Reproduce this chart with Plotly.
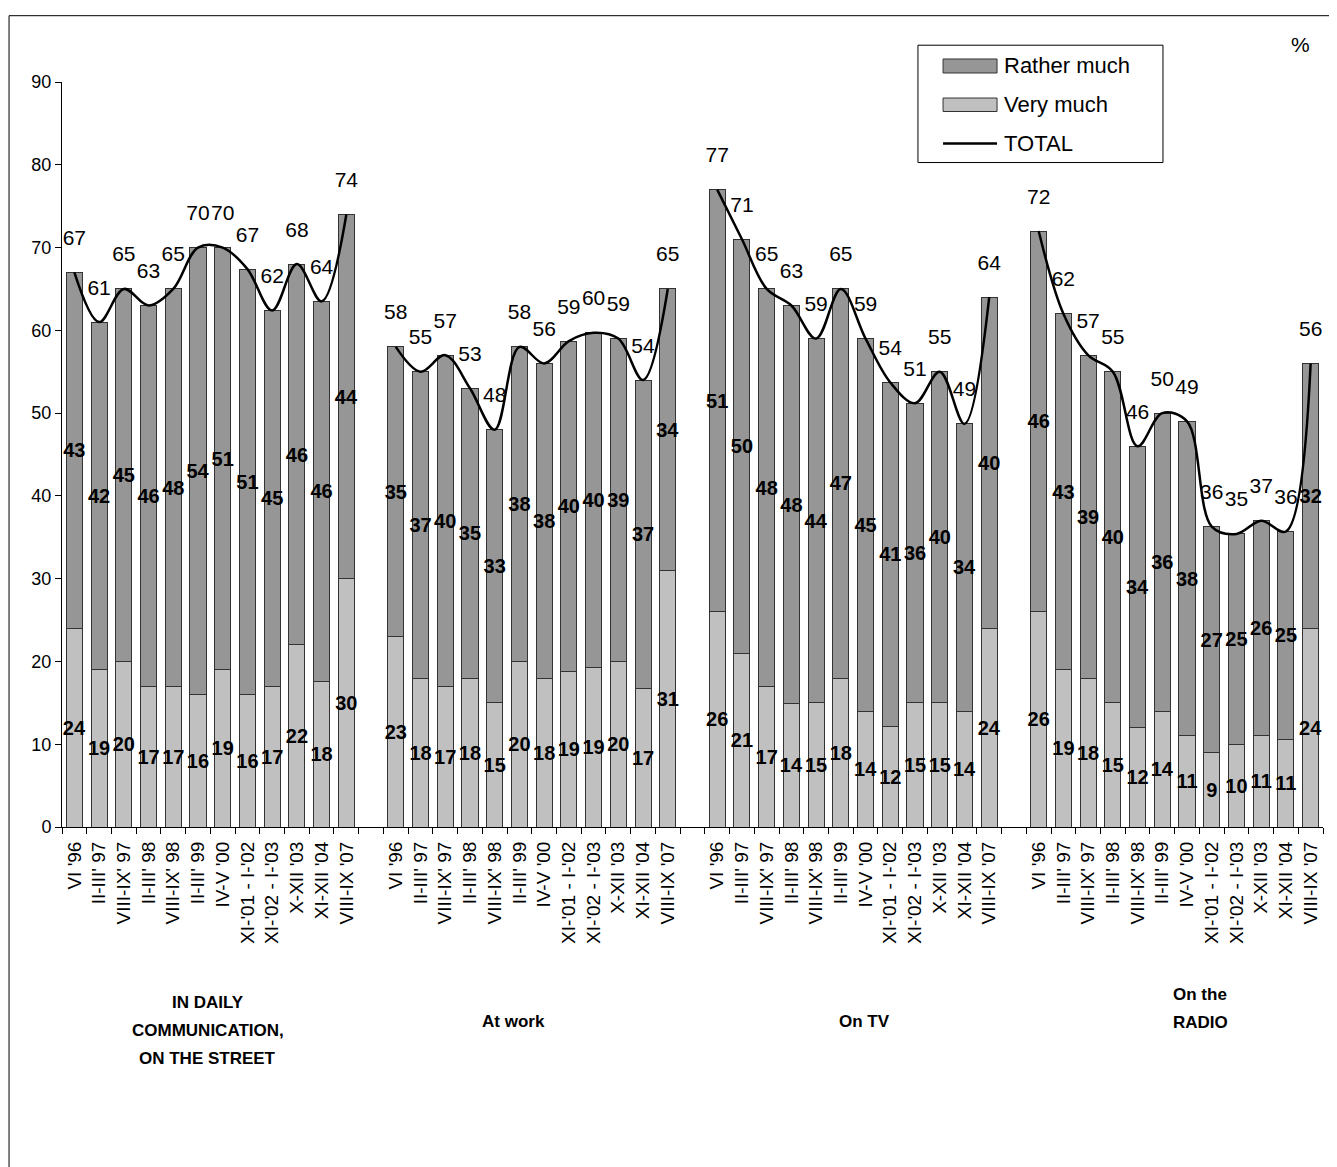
import numpy as np
import plotly.graph_objects as go

# ---------------- data ----------------
period_labels = ["VI '96", "II-III' 97", "VIII-IX' 97", "II-III' 98", "VIII-IX' 98", "II-III' 99",
                 "IV-V '00", "XI-'01 - I-'02", "XI-'02 - I-'03", "X-XII '03", "XI-XII '04", "VIII-IX '07"]
group_lines = [["IN DAILY", "COMMUNICATION,", "ON THE STREET"], ["At work"], ["On TV"], ["On the", "RADIO"]]
legend_names = ["Rather much", "Very much", "TOTAL"]

# bar heights
very_daily = [24, 19, 20, 17, 17, 16, 19, 16, 17, 22, 17.6, 30]
very_work = [23, 18, 17, 18, 15, 20, 18, 18.8, 19.3, 20, 16.7, 31]
very_tv = [26, 21, 17, 14.9, 15, 18, 14, 12.2, 15, 15, 14, 24]
very_radio = [26, 19, 18, 15, 12, 14, 11, 9, 10, 11, 10.6, 24]

total_daily = [67, 61, 65, 63, 65, 70, 70, 67.4, 62.4, 68, 63.5, 74]
total_work = [58, 55, 57, 53, 48, 58, 56, 58.7, 59.7, 59, 54, 65]
total_tv = [77, 71, 65, 63, 59, 65, 59, 53.7, 51.2, 55, 48.7, 64]
total_radio = [72, 62, 57, 55, 46, 50, 49, 36.3, 35.4, 37, 35.7, 56]

# printed data labels
very_lbl_daily = [24, 19, 20, 17, 17, 16, 19, 16, 17, 22, 18, 30]
very_lbl_work = [23, 18, 17, 18, 15, 20, 18, 19, 19, 20, 17, 31]
very_lbl_tv = [26, 21, 17, 14, 15, 18, 14, 12, 15, 15, 14, 24]
very_lbl_radio = [26, 19, 18, 15, 12, 14, 11, 9, 10, 11, 11, 24]

rather_lbl_daily = [43, 42, 45, 46, 48, 54, 51, 51, 45, 46, 46, 44]
rather_lbl_work = [35, 37, 40, 35, 33, 38, 38, 40, 40, 39, 37, 34]
rather_lbl_tv = [51, 50, 48, 48, 44, 47, 45, 41, 36, 40, 34, 40]
rather_lbl_radio = [46, 43, 39, 40, 34, 36, 38, 27, 25, 26, 25, 32]

total_lbl_daily = [67, 61, 65, 63, 65, 70, 70, 67, 62, 68, 64, 74]
total_lbl_work = [58, 55, 57, 53, 48, 58, 56, 59, 60, 59, 54, 65]
total_lbl_tv = [77, 71, 65, 63, 59, 65, 59, 54, 51, 55, 49, 64]
total_lbl_radio = [72, 62, 57, 55, 46, 50, 49, 36, 35, 37, 36, 56]

# ---------------- assemble ----------------
very_all = [very_daily, very_work, very_tv, very_radio]
total_all = [total_daily, total_work, total_tv, total_radio]
very_lbl_all = [very_lbl_daily, very_lbl_work, very_lbl_tv, very_lbl_radio]
rather_lbl_all = [rather_lbl_daily, rather_lbl_work, rather_lbl_tv, rather_lbl_radio]
total_lbl_all = [total_lbl_daily, total_lbl_work, total_lbl_tv, total_lbl_radio]

n = len(period_labels)
step = n + 1  # one empty slot between groups

xs, very_y, rather_y, very_t, rather_t, tot_y, tot_t, ticktext = [], [], [], [], [], [], [], []
line_x, line_y = [], []
for g in range(4):
    base = g * step
    for i in range(n):
        x = base + i
        xs.append(x)
        v = very_all[g][i]
        t = total_all[g][i]
        very_y.append(v)
        rather_y.append(round(t - v, 2))
        very_t.append(str(very_lbl_all[g][i]))
        rather_t.append(str(rather_lbl_all[g][i]))
        tot_y.append(t)
        tot_t.append(str(total_lbl_all[g][i]))
        ticktext.append(period_labels[i])
        line_x.append(x)
        line_y.append(t)
    if g < 3:
        line_x.append(base + n)
        line_y.append(None)

FONT = "Liberation Sans, Arial, sans-serif"
C_RATHER = "#969696"
C_VERY = "#C0C0C0"
C_EDGE = "#333333"

fig = go.Figure()
fig.add_trace(go.Bar(
    x=xs, y=very_y, name=legend_names[1], text=very_t,
    marker=dict(color=C_VERY, line=dict(color=C_EDGE, width=1)),
    textposition="inside", insidetextanchor="middle", textangle=0, constraintext="none",
    insidetextfont=dict(family=FONT, size=20, color="black", weight="bold"),
    showlegend=False, cliponaxis=False,
))
fig.add_trace(go.Bar(
    x=xs, y=rather_y, name=legend_names[0], text=rather_t,
    marker=dict(color=C_RATHER, line=dict(color=C_EDGE, width=1)),
    textposition="inside", insidetextanchor="middle", textangle=0, constraintext="none",
    insidetextfont=dict(family=FONT, size=20, color="black", weight="bold"),
    showlegend=False, cliponaxis=False,
))
fig.add_trace(go.Scatter(
    x=line_x, y=line_y, name=legend_names[2], mode="lines",
    line=dict(color="black", width=2.5, shape="spline", smoothing=1.0),
    connectgaps=False, showlegend=False,
))
fig.add_trace(go.Scatter(
    x=xs, y=tot_y, mode="markers+text", text=tot_t, textposition="top center",
    marker=dict(size=34, color="rgba(0,0,0,0)"),
    textfont=dict(family=FONT, size=21, color="black"),
    showlegend=False, hoverinfo="skip", cliponaxis=False,
))

# group captions (one annotation per text line)
group_x = [5.4, 17.75, 31.94, 45.53]
group_top = [-0.2356, -0.2611, -0.2611, -0.2248]
line_gap = 0.0376
for lines, gx, gy in zip(group_lines, group_x, group_top):
    for k, txt in enumerate(lines):
        fig.add_annotation(x=gx, y=gy - k * line_gap, xref="x", yref="paper", text=txt, showarrow=False,
                           font=dict(family=FONT, size=17, color="black", weight="bold"),
                           align="center", xanchor="center", yanchor="middle")

fig.add_annotation(x=0.9913, y=1.05, xref="paper", yref="paper", text="%", showarrow=False,
                   font=dict(family=FONT, size=21, color="black"), xanchor="right", yanchor="middle")

# outer frame
fig.add_shape(type="rect", xref="paper", yref="paper", x0=-0.042, x1=1.0079, y0=-0.7, y1=1.089,
              line=dict(color="black", width=1), fillcolor="rgba(0,0,0,0)", layer="below")

# legend box (drawn manually to reproduce the wide swatches)
fig.add_shape(type="rect", xref="paper", yref="paper", x0=0.6788, x1=0.8731, y0=0.8919, y1=1.0494,
              line=dict(color="black", width=1), fillcolor="white", layer="above")
fig.add_shape(type="rect", xref="paper", yref="paper", x0=0.6987, x1=0.7415, y0=1.0121, y1=1.0309,
              line=dict(color=C_EDGE, width=1), fillcolor=C_RATHER, layer="above")
fig.add_shape(type="rect", xref="paper", yref="paper", x0=0.6987, x1=0.7415, y0=0.9604, y1=0.9785,
              line=dict(color=C_EDGE, width=1), fillcolor=C_VERY, layer="above")
fig.add_shape(type="line", xref="paper", yref="paper", x0=0.6987, x1=0.7415, y0=0.9174, y1=0.9174,
              line=dict(color="black", width=2.5), layer="above")
for txt, ly in zip(legend_names, [1.0215, 0.9695, 0.9174]):
    fig.add_annotation(x=0.7455, y=ly, xref="paper", yref="paper", text=txt, showarrow=False,
                       font=dict(family=FONT, size=22, color="black"), xanchor="left", yanchor="middle")

fig.update_layout(
    width=1329, height=1159,
    margin=dict(l=54, r=14, t=74, b=340),
    paper_bgcolor="white", plot_bgcolor="white",
    barmode="stack", bargap=0.35,
    font=dict(family=FONT, size=18, color="black"),
    showlegend=False,
    xaxis=dict(range=[-0.5, 4 * step - 1.5], tickmode="array", tickvals=xs, ticktext=ticktext,
               tickangle=-90, ticks="", showline=True, linecolor="black", linewidth=1,
               showgrid=False, zeroline=False, ticklabelstandoff=6,
               tickfont=dict(family=FONT, size=19, color="black"),
               minor=dict(tickmode="linear", tick0=-0.5, dtick=1, ticks="outside", ticklen=6,
                          tickcolor="black", tickwidth=1, showgrid=False)),
    yaxis=dict(range=[0, 90], dtick=10, ticks="outside", ticklen=6, tickcolor="black",
               showline=True, linecolor="black", linewidth=1, showgrid=False, zeroline=False,
               tickfont=dict(family=FONT, size=18, color="black")),
)

fig.write_html("out.html")
